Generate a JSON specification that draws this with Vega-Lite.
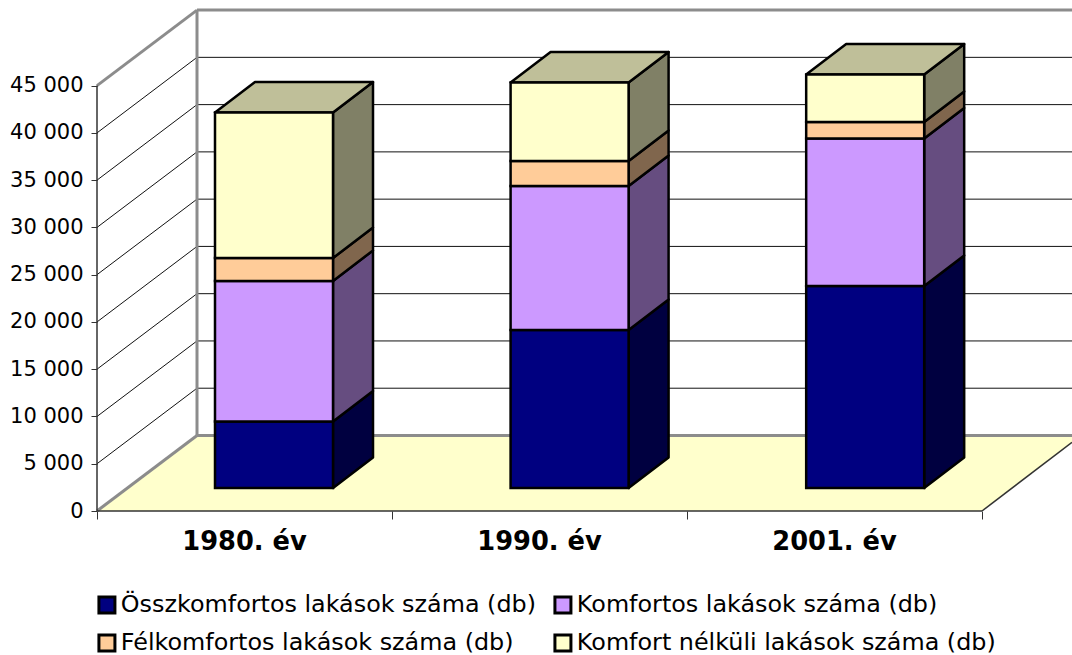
{
"$schema":"https://vega.github.io/schema/vega-lite/v6.json",
"autosize":{"type":"none"},
"padding":{"left":97,"top":9,"right":0,"bottom":144},
"width":975,"height":502,
"background":"white",
"config":{"view":{"stroke":null},"font":"DejaVu Sans",
 "axis":{"grid":false,"domain":false,"title":null,"tickColor":"#333333","tickWidth":1},
 "axisX":{"labels":false,"tickSize":8},
 "axisY":{"tickSize":6,"labelFontSize":21,"labelColor":"#000000","labelFont":"DejaVu Sans","labelPadding":8}},
"datasets":{
"bars":[
{"year":"1980. év","series":"Összkomfortos lakások száma (db)","x0":0.4,"x1":0.8,"low":2433,"high":9468},
{"year":"1980. év","series":"Komfortos lakások száma (db)","x0":0.4,"x1":0.8,"low":9468,"high":24331},
{"year":"1980. év","series":"Félkomfortos lakások száma (db)","x0":0.4,"x1":0.8,"low":24331,"high":26764},
{"year":"1980. év","series":"Komfort nélküli lakások száma (db)","x0":0.4,"x1":0.8,"low":26764,"high":42156},
{"year":"1990. év","series":"Összkomfortos lakások száma (db)","x0":1.402,"x1":1.802,"low":2433,"high":19147},
{"year":"1990. év","series":"Komfortos lakások száma (db)","x0":1.402,"x1":1.802,"low":19147,"high":34380},
{"year":"1990. év","series":"Félkomfortos lakások száma (db)","x0":1.402,"x1":1.802,"low":34380,"high":37025},
{"year":"1990. év","series":"Komfort nélküli lakások száma (db)","x0":1.402,"x1":1.802,"low":37025,"high":45330},
{"year":"2001. év","series":"Összkomfortos lakások száma (db)","x0":2.404,"x1":2.804,"low":2433,"high":23802},
{"year":"2001. év","series":"Komfortos lakások száma (db)","x0":2.404,"x1":2.804,"low":23802,"high":39405},
{"year":"2001. év","series":"Félkomfortos lakások száma (db)","x0":2.404,"x1":2.804,"low":39405,"high":41151},
{"year":"2001. év","series":"Komfort nélküli lakások száma (db)","x0":2.404,"x1":2.804,"low":41151,"high":46176}
],
"sides":[
{"year":"1980. év","series":"Összkomfortos lakások száma (db)","x":0.8,"low":2433,"high":9468},
{"year":"1980. év","series":"Összkomfortos lakások száma (db)","x":0.9356,"low":5670,"high":12705},
{"year":"1980. év","series":"Komfortos lakások száma (db)","x":0.8,"low":9468,"high":24331},
{"year":"1980. év","series":"Komfortos lakások száma (db)","x":0.9356,"low":12705,"high":27568},
{"year":"1980. év","series":"Félkomfortos lakások száma (db)","x":0.8,"low":24331,"high":26764},
{"year":"1980. év","series":"Félkomfortos lakások száma (db)","x":0.9356,"low":27568,"high":30001},
{"year":"1980. év","series":"Komfort nélküli lakások száma (db)","x":0.8,"low":26764,"high":42156},
{"year":"1980. év","series":"Komfort nélküli lakások száma (db)","x":0.9356,"low":30001,"high":45393},
{"year":"1990. év","series":"Összkomfortos lakások száma (db)","x":1.802,"low":2433,"high":19147},
{"year":"1990. év","series":"Összkomfortos lakások száma (db)","x":1.9376,"low":5670,"high":22384},
{"year":"1990. év","series":"Komfortos lakások száma (db)","x":1.802,"low":19147,"high":34380},
{"year":"1990. év","series":"Komfortos lakások száma (db)","x":1.9376,"low":22384,"high":37617},
{"year":"1990. év","series":"Félkomfortos lakások száma (db)","x":1.802,"low":34380,"high":37025},
{"year":"1990. év","series":"Félkomfortos lakások száma (db)","x":1.9376,"low":37617,"high":40262},
{"year":"1990. év","series":"Komfort nélküli lakások száma (db)","x":1.802,"low":37025,"high":45330},
{"year":"1990. év","series":"Komfort nélküli lakások száma (db)","x":1.9376,"low":40262,"high":48567},
{"year":"2001. év","series":"Összkomfortos lakások száma (db)","x":2.804,"low":2433,"high":23802},
{"year":"2001. év","series":"Összkomfortos lakások száma (db)","x":2.9396,"low":5670,"high":27039},
{"year":"2001. év","series":"Komfortos lakások száma (db)","x":2.804,"low":23802,"high":39405},
{"year":"2001. év","series":"Komfortos lakások száma (db)","x":2.9396,"low":27039,"high":42642},
{"year":"2001. év","series":"Félkomfortos lakások száma (db)","x":2.804,"low":39405,"high":41151},
{"year":"2001. év","series":"Félkomfortos lakások száma (db)","x":2.9396,"low":42642,"high":44388},
{"year":"2001. év","series":"Komfort nélküli lakások száma (db)","x":2.804,"low":41151,"high":46176},
{"year":"2001. év","series":"Komfort nélküli lakások száma (db)","x":2.9396,"low":44388,"high":49413}
],
"tops":[
{"year":"1980. év","x":0.4,"low":42156,"high":42156},
{"year":"1980. év","x":0.5356,"low":42156,"high":45393},
{"year":"1980. év","x":0.8,"low":42156,"high":45393},
{"year":"1980. év","x":0.9356,"low":45393,"high":45393},
{"year":"1990. év","x":1.402,"low":45330,"high":45330},
{"year":"1990. év","x":1.5376,"low":45330,"high":48567},
{"year":"1990. év","x":1.802,"low":45330,"high":48567},
{"year":"1990. év","x":1.9376,"low":48567,"high":48567},
{"year":"2001. év","x":2.404,"low":46176,"high":46176},
{"year":"2001. év","x":2.5396,"low":46176,"high":49413},
{"year":"2001. év","x":2.804,"low":46176,"high":49413},
{"year":"2001. év","x":2.9396,"low":49413,"high":49413}
],
"floor":[
{"x":0,"low":0,"high":0},
{"x":0.339,"low":0,"high":7990},
{"x":3,"low":0,"high":7990},
{"x":3.339,"low":7990,"high":7990}
],
"grid":[
{"level":5000,"x":0,"v":5000},{"level":5000,"x":0.339,"v":12990},{"level":5000,"x":3.31,"v":12990},
{"level":10000,"x":0,"v":10000},{"level":10000,"x":0.339,"v":17990},{"level":10000,"x":3.31,"v":17990},
{"level":15000,"x":0,"v":15000},{"level":15000,"x":0.339,"v":22990},{"level":15000,"x":3.31,"v":22990},
{"level":20000,"x":0,"v":20000},{"level":20000,"x":0.339,"v":27990},{"level":20000,"x":3.31,"v":27990},
{"level":25000,"x":0,"v":25000},{"level":25000,"x":0.339,"v":32990},{"level":25000,"x":3.31,"v":32990},
{"level":30000,"x":0,"v":30000},{"level":30000,"x":0.339,"v":37990},{"level":30000,"x":3.31,"v":37990},
{"level":35000,"x":0,"v":35000},{"level":35000,"x":0.339,"v":42990},{"level":35000,"x":3.31,"v":42990},
{"level":40000,"x":0,"v":40000},{"level":40000,"x":0.339,"v":47990},{"level":40000,"x":3.31,"v":47990}
],
"frame":[
{"edge":"floorLeft","x":0,"v":0},{"edge":"floorLeft","x":0.339,"v":7990},
{"edge":"floorBack","x":0.339,"v":7990},{"edge":"floorBack","x":3.31,"v":7990},
{"edge":"wallCorner","x":0.339,"v":7990},{"edge":"wallCorner","x":0.339,"v":52990},
{"edge":"wallTop","x":0,"v":45000},{"edge":"wallTop","x":0.339,"v":52990},
{"edge":"backTop","x":0.339,"v":52990},{"edge":"backTop","x":3.31,"v":52990}
],
"axisLines":[
{"edge":"front","x":0,"v":0},{"edge":"front","x":3,"v":0},
{"edge":"left","x":0,"v":0},{"edge":"left","x":0,"v":45000},
{"edge":"floorRight","x":3,"v":0},{"edge":"floorRight","x":3.305,"v":7260}
],
"labels":[
{"year":"1980. év","x":0.5,"v":0},{"year":"1990. év","x":1.5,"v":0},{"year":"2001. év","x":2.5,"v":0}
]
},
"layer":[
{"data":{"name":"floor"},"mark":{"type":"area","fill":"#FFFFCC","stroke":null},
 "encoding":{
  "x":{"field":"x","type":"quantitative","title":null,"scale":{"domain":[0,3.30508],"nice":false,"zero":false},
   "axis":{"values":[0,1,2,3]}},
  "y":{"field":"low","type":"quantitative","title":null,"stack":null,"scale":{"domain":[0,53105],"nice":false},
   "axis":{"values":[0,5000,10000,15000,20000,25000,30000,35000,40000,45000],"labelExpr":"replace(format(datum.value,','),',',' ')"}},
  "y2":{"field":"high"}}},
{"data":{"name":"grid"},"mark":{"type":"line","stroke":"#111111","strokeWidth":1},
 "encoding":{"x":{"field":"x","type":"quantitative","title":null,"scale":{"domain":[0,3.30508],"nice":false,"zero":false}},
  "y":{"field":"v","type":"quantitative","title":null,"scale":{"domain":[0,53105],"nice":false}},
  "detail":{"field":"level"}}},
{"data":{"name":"frame"},"mark":{"type":"line","stroke":"#8C8C8C","strokeWidth":3},
 "encoding":{"x":{"field":"x","type":"quantitative","title":null,"scale":{"domain":[0,3.30508],"nice":false,"zero":false}},
  "y":{"field":"v","type":"quantitative","title":null,"scale":{"domain":[0,53105],"nice":false}},
  "detail":{"field":"edge"}}},
{"data":{"name":"axisLines"},"mark":{"type":"line","stroke":"#333333","strokeWidth":1.5},
 "encoding":{"x":{"field":"x","type":"quantitative","title":null,"scale":{"domain":[0,3.30508],"nice":false,"zero":false}},
  "y":{"field":"v","type":"quantitative","title":null,"scale":{"domain":[0,53105],"nice":false}},
  "detail":{"field":"edge"}}},
{"data":{"name":"sides"},"mark":{"type":"area","stroke":"#000000","strokeWidth":2.5,"strokeJoin":"round"},
 "encoding":{"x":{"field":"x","type":"quantitative","title":null,"scale":{"domain":[0,3.30508],"nice":false,"zero":false}},
  "y":{"field":"low","type":"quantitative","title":null,"stack":null,"scale":{"domain":[0,53105],"nice":false}},
  "y2":{"field":"high"},
  "detail":{"field":"year"},
  "color":{"field":"series","type":"nominal","legend":null,"scale":{"domain":["Összkomfortos lakások száma (db)","Komfortos lakások száma (db)","Félkomfortos lakások száma (db)","Komfort nélküli lakások száma (db)"],"range":["#000040","#664D80","#80664D","#808066"]}}}},
{"data":{"name":"tops"},"mark":{"type":"area","fill":"#BFBF99","stroke":"#000000","strokeWidth":2.5,"strokeJoin":"round"},
 "encoding":{"x":{"field":"x","type":"quantitative","title":null,"scale":{"domain":[0,3.30508],"nice":false,"zero":false}},
  "y":{"field":"low","type":"quantitative","title":null,"stack":null,"scale":{"domain":[0,53105],"nice":false}},
  "y2":{"field":"high"},
  "detail":{"field":"year"}}},
{"data":{"name":"bars"},"mark":{"type":"rect","stroke":"#000000","strokeWidth":2.5},
 "encoding":{"x":{"field":"x0","type":"quantitative","title":null,"scale":{"domain":[0,3.30508],"nice":false,"zero":false}},
  "x2":{"field":"x1"},
  "y":{"field":"low","type":"quantitative","title":null,"scale":{"domain":[0,53105],"nice":false}},
  "y2":{"field":"high"},
  "color":{"field":"series","type":"nominal","scale":{"domain":["Összkomfortos lakások száma (db)","Félkomfortos lakások száma (db)","Komfortos lakások száma (db)","Komfort nélküli lakások száma (db)"],"range":["#000080","#FFCC99","#CC99FF","#FFFFCC"]},
   "legend":{"title":null,"orient":"none","legendX":-2,"legendY":584,"columns":2,"columnPadding":12,"rowPadding":9,"symbolType":"square","symbolSize":256,"symbolStrokeColor":"#000000","symbolStrokeWidth":3,"symbolOpacity":1,"labelFontSize":23.85,"labelFont":"DejaVu Sans","labelColor":"#000000","labelOffset":2,"labelLimit":600,"gridAlign":"each","padding":0}}}},
{"data":{"name":"labels"},"mark":{"type":"text","fontWeight":"bold","fontSize":25.7,"font":"DejaVu Sans","color":"#000000","dy":31,"baseline":"middle","align":"center"},
 "encoding":{"x":{"field":"x","type":"quantitative","title":null,"scale":{"domain":[0,3.30508],"nice":false,"zero":false}},
  "y":{"field":"v","type":"quantitative","title":null,"scale":{"domain":[0,53105],"nice":false}},
  "text":{"field":"year"}}}
],
"resolve":{"scale":{"color":"independent"}}
}
